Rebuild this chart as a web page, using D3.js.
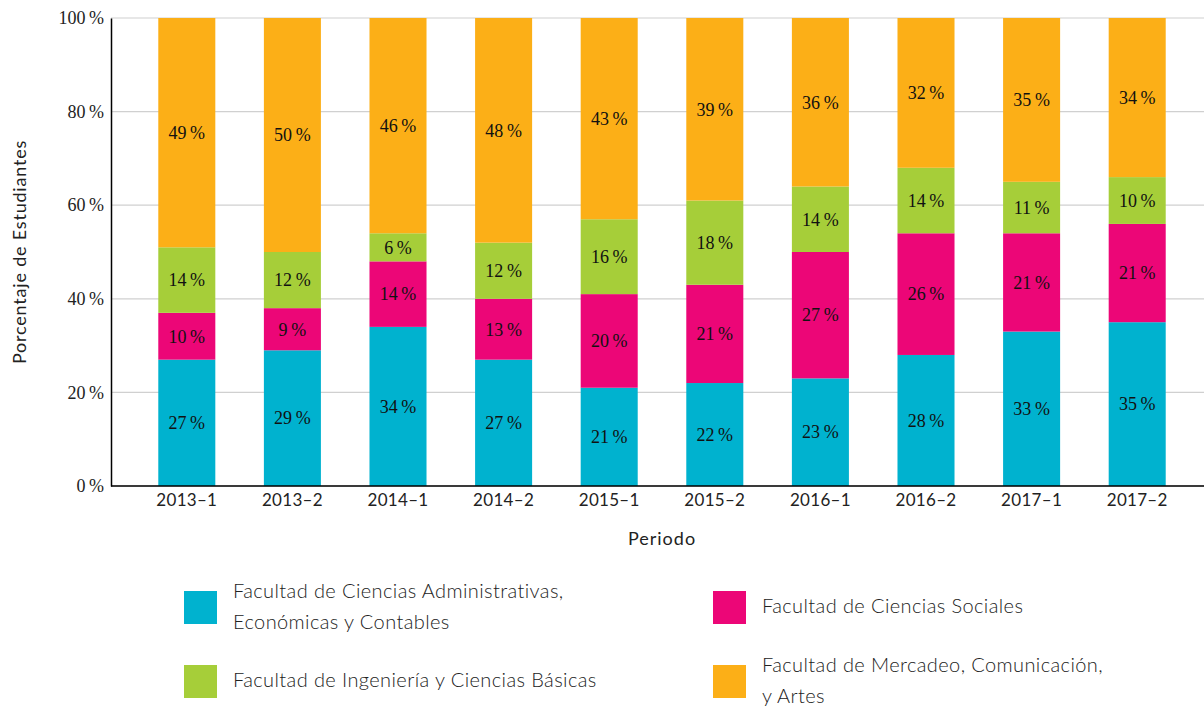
<!DOCTYPE html>
<html>
<head>
<meta charset="utf-8">
<script src="https://cdn.jsdelivr.net/npm/d3@7"></script>
<style>
  body { margin: 0; background: #fff; }
  .serif { font-family: "Liberation Serif", "DejaVu Serif", serif; }
  .sans { font-family: Lato, "Open Sans", sans-serif; }
</style>
</head>
<body>
<div id="chart"></div>
<script>
const periods = ["2013–1", "2013–2", "2014–1", "2014–2", "2015–1", "2015–2", "2016–1", "2016–2", "2017–1", "2017–2"];
const admin = [27, 29, 34, 27, 21, 22, 23, 28, 33, 35];
const sociales = [10, 9, 14, 13, 20, 21, 27, 26, 21, 21];
const ingenieria = [14, 12, 6, 12, 16, 18, 14, 14, 11, 10];
const mercadeo = [49, 50, 46, 48, 43, 39, 36, 32, 35, 34];
const yTicks = [0, 20, 40, 60, 80, 100];
const seriesNames = [
  "Facultad de Ciencias Administrativas, Económicas y Contables",
  "Facultad de Ciencias Sociales",
  "Facultad de Ingeniería y Ciencias Básicas",
  "Facultad de Mercadeo, Comunicación, y Artes"
];
const colors = ["#00b2cf", "#ec0677", "#a6ce39", "#fcaf17"];

const width = 1204, height = 707;
const svg = d3.select("#chart").append("svg")
  .attr("width", width).attr("height", height);

const rows = periods.map((p, i) => ({
  period: p, a: admin[i], s: sociales[i], g: ingenieria[i], m: mercadeo[i]
}));
const keys = ["a", "s", "g", "m"];
const stack = d3.stack().keys(keys)(rows);

const x = d3.scaleBand().domain(periods).range([134, 1190])
  .paddingInner(0.46).paddingOuter(0.23);
const y = d3.scaleLinear().domain([0, 100]).range([486, 18]);

// gridlines
svg.append("g").selectAll("line").data(yTicks).enter().append("line")
  .attr("x1", 111).attr("x2", width)
  .attr("y1", d => y(d)).attr("y2", d => y(d))
  .attr("stroke", "#d0d0d0").attr("stroke-width", 1.2);

// bars
const layer = svg.append("g").selectAll("g").data(stack).enter().append("g")
  .attr("fill", (d, i) => colors[i]);
layer.selectAll("rect").data(d => d).enter().append("rect")
  .attr("x", d => x(d.data.period))
  .attr("width", x.bandwidth())
  .attr("y", d => y(d[1]))
  .attr("height", d => y(d[0]) - y(d[1]));

// bar labels
layer.selectAll("text").data(d => d).enter().append("text")
  .attr("class", "serif")
  .attr("x", d => x(d.data.period) + x.bandwidth() / 2)
  .attr("y", d => (y(d[0]) + y(d[1])) / 2)
  .attr("dy", "0.35em")
  .attr("text-anchor", "middle")
  .attr("font-size", 18)
  .attr("fill", "#111")
  .text(d => (d[1] - d[0]) + "\u2009%");

// y axis
const yAxis = svg.append("g").attr("transform", "translate(111,0)")
  .call(d3.axisLeft(y).tickValues(yTicks).tickSize(0).tickPadding(7)
    .tickFormat(d => d + "\u2009%"));
yAxis.select(".domain").attr("stroke", "#000").attr("stroke-width", 1.5);
yAxis.selectAll("text").attr("class", "serif").attr("font-size", 18).attr("fill", "#222");

// x axis
const xAxis = svg.append("g").attr("transform", "translate(0,486)")
  .call(d3.axisBottom(x).tickSize(0).tickPadding(8));
xAxis.select(".domain").attr("d", `M111,0H${width}`)
  .attr("stroke", "#000").attr("stroke-width", 1.5);
xAxis.selectAll("text").attr("class", "sans").attr("font-size", 17)
  .attr("letter-spacing", 0.3).attr("fill", "#222");

// axis titles
svg.append("text").attr("class", "sans")
  .attr("x", 662).attr("y", 545).attr("text-anchor", "middle")
  .attr("font-size", 18).attr("letter-spacing", 1).attr("fill", "#222").text("Periodo");
svg.append("text").attr("class", "sans")
  .attr("transform", "translate(26,252) rotate(-90)")
  .attr("text-anchor", "middle")
  .attr("font-size", 18).attr("letter-spacing", 0.8)
  .attr("fill", "#222").text("Porcentaje de Estudiantes");

// legend
const legend = [
  { x: 184, y: 591, lines: ["Facultad de Ciencias Administrativas,", "Económicas y Contables"], c: 0 },
  { x: 713, y: 591, lines: ["Facultad de Ciencias Sociales"], c: 1 },
  { x: 184, y: 665, lines: ["Facultad de Ingeniería y Ciencias Básicas"], c: 2 },
  { x: 713, y: 665, lines: ["Facultad de Mercadeo, Comunicación,", "y Artes"], c: 3 }
];
const lg = svg.append("g").selectAll("g").data(legend).enter().append("g");
lg.append("rect")
  .attr("x", d => d.x).attr("y", d => d.y)
  .attr("width", 33).attr("height", 33)
  .attr("fill", d => colors[d.c]);
lg.append("text").attr("class", "sans")
  .attr("font-size", 20).attr("font-weight", 300).attr("letter-spacing", 0.4)
  .attr("fill", "#222")
  .each(function (d) {
    const t = d3.select(this);
    const mid = d.y + 15;
    const y0 = mid - (d.lines.length - 1) * 31 / 2;
    d.lines.forEach((ln, i) => {
      t.append("tspan").attr("x", d.x + 49).attr("y", y0 + i * 31)
        .attr("dy", "0.35em").text(ln);
    });
  });
</script>
</body>
</html>
